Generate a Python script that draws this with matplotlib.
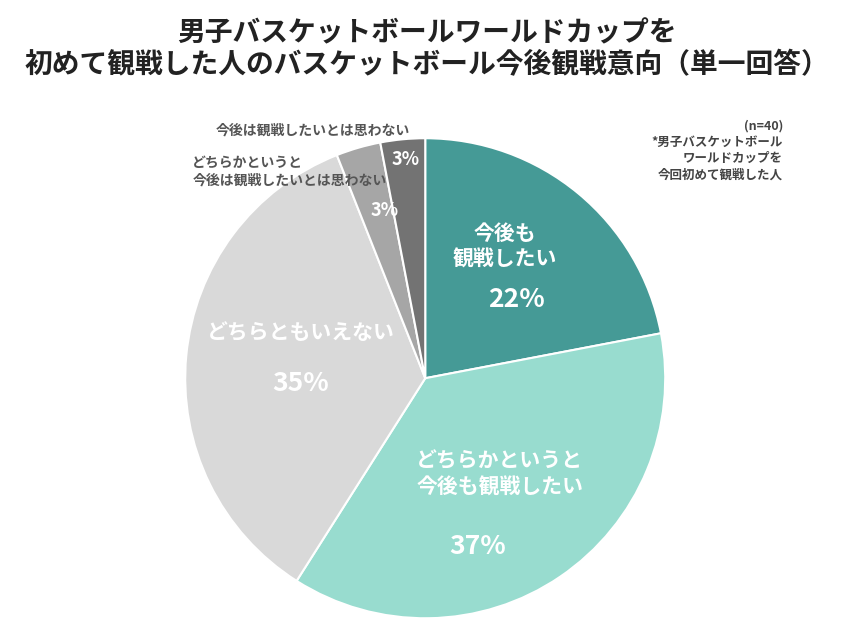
import matplotlib.pyplot as plt

plt.rcParams['font.family'] = 'Noto Sans CJK JP'

labels = ['今後も\n観戦したい', 'どちらかというと\n今後も観戦したい', 'どちらともいえない',
          'どちらかというと\n今後は観戦したいとは思わない', '今後は観戦したいとは思わない']
values = [22, 37, 35, 3, 3]
colors = ['#459a96', '#98dccf', '#d9d9d9', '#a6a6a6', '#737373']

fig = plt.figure(figsize=(8.53, 6.4), dpi=100)
ax = fig.add_axes([0.217, 0.034, 0.563, 0.75])
ax.pie(values, colors=colors, startangle=90, counterclock=False,
       wedgeprops=dict(edgecolor='white', linewidth=1.5))
ax.set_xlim(-1, 1)
ax.set_ylim(-1, 1)
ax.set_aspect('equal')

# inside labels
inner = [(0.33, 0.55, 0.38, 0.33), (0.31, -0.40, 0.22, -0.70), (-0.52, 0.19, -0.52, -0.02)]
for (lx, ly, px, py), lab, v in zip(inner, labels[:3], values[:3]):
    ax.text(lx, ly, lab, ha='center', va='center', color='white', fontsize=15,
            fontweight='bold', linespacing=1.3)
    ax.text(px, py, f'{v}%', ha='center', va='center', color='white', fontsize=19,
            fontweight='bold')

ax.text(-0.17, 0.70, f'{values[3]}%', ha='center', va='center', color='white',
        fontsize=13, fontweight='bold')
ax.text(-0.08, 0.91, f'{values[4]}%', ha='center', va='center', color='white',
        fontsize=13, fontweight='bold')

# outer labels
ax.text(-0.47, 1.03, labels[4], ha='center', va='center', color='#555555',
        fontsize=10, fontweight='bold')
ax.text(-0.97, 0.86, labels[3], ha='left', va='center', color='#555555',
        fontsize=10, fontweight='bold', linespacing=1.3)

fig.text(0.918, 0.765, '(n=40)\n*男子バスケットボール\nワールドカップを\n今回初めて観戦した人',
         ha='right', va='center', color='#444444', fontsize=9, fontweight='bold',
         linespacing=1.35)

fig.suptitle('男子バスケットボールワールドカップを\n初めて観戦した人のバスケットボール今後観戦意向（単一回答）',
             x=0.5, y=0.97, fontsize=20, fontweight='bold', color='#222222',
             linespacing=1.2)

fig.savefig('out.png', dpi=100)
